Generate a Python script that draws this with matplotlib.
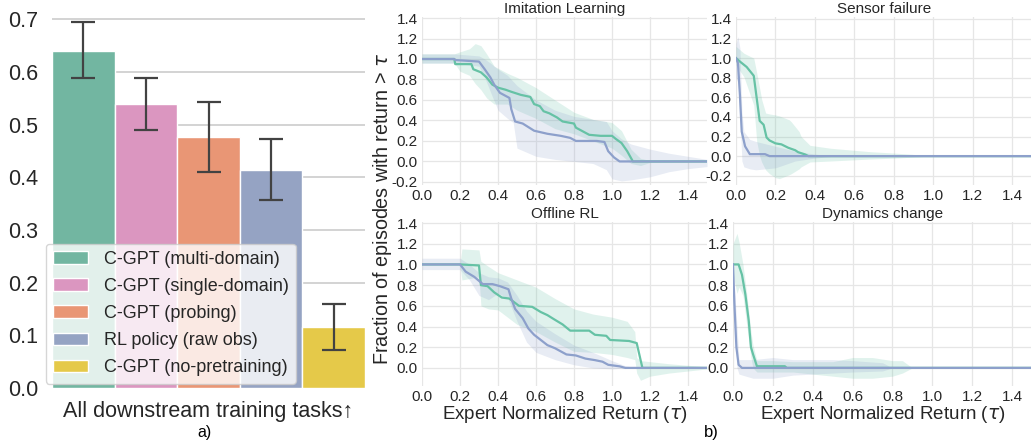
import matplotlib
matplotlib.use("Agg")
import matplotlib.pyplot as plt
import seaborn as sns

plt.rcParams['font.family'] = ['Liberation Sans', 'DejaVu Sans']
plt.rcParams['mathtext.fontset'] = 'dejavusans'
plt.rcParams['axes.unicode_minus'] = False

W, H = 1031, 441

# ---- panel a) bar chart ----
methods = ["C-GPT (multi-domain)", "C-GPT (single-domain)", "C-GPT (probing)",
           "RL policy (raw obs)", "C-GPT (no-pretraining)"]
bar_means = [0.640, 0.538, 0.476, 0.413, 0.116]
bar_lo = [0.588, 0.490, 0.410, 0.357, 0.073]
bar_hi = [0.695, 0.588, 0.543, 0.472, 0.160]

# ---- panel b) curves: x, mean, band x, band low, band high ----
tick_x = [0.0, 0.2, 0.4, 0.6, 0.8, 1.0, 1.2, 1.4]

# Imitation Learning
il_cg_x = [0.0, 0.17, 0.175, 0.26, 0.27, 0.31, 0.34, 0.37, 0.40, 0.44, 0.47, 0.52, 0.57, 0.59,
           0.62, 0.64, 0.67, 0.71, 0.74, 0.80, 0.81, 0.85, 0.88, 0.94, 1.00, 1.02, 1.05, 1.08,
           1.11, 1.50]
il_cg_y = [1.0, 1.0, 0.95, 0.95, 0.90, 0.87, 0.82, 0.75, 0.72, 0.70, 0.68, 0.65, 0.63, 0.56,
           0.54, 0.49, 0.47, 0.43, 0.39, 0.37, 0.33, 0.29, 0.26, 0.25, 0.25, 0.22, 0.18, 0.10,
           0.0, 0.0]
il_cg_bx = [0.0, 0.17, 0.2, 0.25, 0.28, 0.31, 0.34, 0.38, 0.45, 0.5, 0.6, 0.7, 0.8, 0.9, 1.0,
            1.05, 1.1, 1.15, 1.2, 1.5]
il_cg_hi = [1.05, 1.05, 1.07, 1.1, 1.15, 1.13, 1.05, 0.93, 0.86, 0.82, 0.72, 0.6, 0.48, 0.41,
            0.38, 0.3, 0.12, 0.03, 0.01, 0.0]
il_cg_lo = [0.96, 0.96, 0.88, 0.84, 0.76, 0.70, 0.62, 0.56, 0.56, 0.5, 0.42, 0.32, 0.27, 0.2,
            0.13, 0.06, -0.02, -0.04, -0.01, 0.0]
il_rl_x = [0.0, 0.17, 0.175, 0.30, 0.33, 0.36, 0.38, 0.41, 0.44, 0.46, 0.47, 0.49, 0.53, 0.59,
           0.66, 0.73, 0.78, 0.81, 0.92, 0.96, 0.98, 1.01, 1.04, 1.50]
il_rl_y = [1.0, 1.0, 0.99, 0.975, 0.90, 0.82, 0.75, 0.67, 0.64, 0.62, 0.51, 0.39, 0.37, 0.30,
           0.27, 0.25, 0.23, 0.20, 0.20, 0.19, 0.10, 0.04, 0.0, 0.0]
il_rl_bx = [0.0, 0.17, 0.3, 0.33, 0.36, 0.4, 0.45, 0.48, 0.5, 0.6, 0.7, 0.8, 0.9, 0.97, 1.0,
            1.05, 1.1, 1.2, 1.3, 1.4, 1.5]
il_rl_hi = [1.05, 1.05, 1.03, 1.0, 0.96, 0.9, 0.84, 0.78, 0.74, 0.6, 0.5, 0.44, 0.41, 0.39,
            0.3, 0.22, 0.17, 0.12, 0.08, 0.05, 0.02]
il_rl_lo = [0.96, 0.96, 0.93, 0.82, 0.68, 0.5, 0.42, 0.38, 0.13, 0.05, 0.02, 0.0, -0.02,
            -0.08, -0.17, -0.19, -0.18, -0.15, -0.1, -0.07, -0.05]

# Sensor failure
sf_cg_x = [0.0, 0.02, 0.054, 0.09, 0.105, 0.12, 0.14, 0.155, 0.17, 0.20, 0.23, 0.265, 0.30,
           0.315, 0.35, 0.367, 1.5]
sf_cg_y = [1.0, 0.965, 0.91, 0.82, 0.59, 0.36, 0.32, 0.19, 0.16, 0.13, 0.12, 0.085, 0.06,
           0.04, 0.017, 0.0, 0.0]
sf_cg_bx = [0.0, 0.04, 0.09, 0.105, 0.12, 0.13, 0.15, 0.17, 0.2, 0.22, 0.27, 0.28, 0.32, 0.33,
            0.375, 0.48, 0.68, 0.81, 0.9, 0.98, 1.5]
sf_cg_hi = [1.12, 1.05, 1.0, 0.85, 0.69, 0.58, 0.44, 0.43, 0.42, 0.41, 0.37, 0.35, 0.25, 0.2,
            0.11, 0.08, 0.045, 0.03, 0.017, 0.0, 0.0]
sf_cg_lo = [0.93, 0.81, 0.52, 0.15, 0.0, -0.06, -0.14, -0.18, -0.22, -0.23, -0.19, -0.18,
            -0.13, -0.11, -0.06, -0.05, -0.03, -0.02, -0.01, 0.0, 0.0]
sf_rl_x = [0.0, 0.01, 0.02, 0.029, 0.046, 0.07, 0.147, 0.17, 1.5]
sf_rl_y = [1.0, 0.95, 0.62, 0.25, 0.10, 0.02, 0.02, 0.0, 0.0]
sf_rl_bx = [0.0, 0.01, 0.02, 0.03, 0.04, 0.07, 0.1, 0.2, 0.3, 0.4, 0.5]
sf_rl_hi = [1.15, 1.22, 1.1, 0.45, 0.25, 0.17, 0.15, 0.1, 0.05, 0.02, 0.0]
sf_rl_lo = [0.8, 0.75, 0.4, -0.05, -0.11, -0.13, -0.14, -0.12, -0.05, -0.02, 0.0]

# Offline RL
or_cg_x = [0.0, 0.20, 0.30, 0.31, 0.345, 0.38, 0.42, 0.46, 0.51, 0.58, 0.625, 0.66, 0.695,
           0.74, 0.78, 0.88, 0.91, 0.97, 0.99, 1.09, 1.11, 1.13, 1.16, 1.5]
or_cg_y = [1.0, 1.0, 0.99, 0.80, 0.79, 0.73, 0.68, 0.67, 0.60, 0.59, 0.54, 0.51, 0.47, 0.42,
           0.36, 0.36, 0.32, 0.31, 0.27, 0.26, 0.25, 0.24, 0.0, 0.0]
or_cg_bx = [0.0, 0.2, 0.21, 0.30, 0.31, 0.35, 0.4, 0.5, 0.6, 0.7, 0.8, 0.9, 1.0, 1.08, 1.12,
            1.13, 1.15, 1.2, 1.3, 1.5]
or_cg_hi = [1.0, 1.0, 1.15, 1.14, 1.03, 0.98, 0.92, 0.85, 0.78, 0.67, 0.57, 0.52, 0.49, 0.45,
            0.35, 0.1, 0.07, 0.06, 0.04, 0.01]
or_cg_lo = [1.0, 1.0, 0.85, 0.88, 0.6, 0.57, 0.56, 0.42, 0.35, 0.25, 0.16, 0.15, 0.13, 0.1,
            0.08, -0.05, -0.12, -0.08, -0.05, -0.01]
or_rl_x = [0.0, 0.2, 0.23, 0.275, 0.32, 0.37, 0.41, 0.455, 0.47, 0.49, 0.53, 0.56, 0.59, 0.625,
           0.66, 0.70, 0.76, 0.81, 0.86, 0.91, 0.95, 0.98, 1.04, 1.07, 1.5]
or_rl_y = [1.0, 1.0, 0.93, 0.88, 0.81, 0.81, 0.79, 0.76, 0.67, 0.57, 0.48, 0.38, 0.32, 0.27,
           0.22, 0.19, 0.13, 0.12, 0.09, 0.075, 0.06, 0.03, 0.015, 0.0, 0.0]
or_rl_bx = [0.0, 0.2, 0.25, 0.3, 0.35, 0.4, 0.45, 0.5, 0.55, 0.6, 0.7, 0.8, 0.9, 1.0, 1.07,
            1.15, 1.5]
or_rl_hi = [1.06, 1.06, 1.0, 0.92, 0.88, 0.87, 0.83, 0.7, 0.55, 0.45, 0.33, 0.22, 0.15, 0.07,
            0.02, 0.0, 0.0]
or_rl_lo = [0.95, 0.95, 0.85, 0.7, 0.66, 0.72, 0.68, 0.45, 0.25, 0.15, 0.08, 0.03, 0.0, -0.01,
            0.0, 0.0, 0.0]

# Dynamics change
dc_cg_x = [0.0, 0.028, 0.045, 0.062, 0.079, 0.09, 0.10, 0.12, 0.26, 0.27, 1.5]
dc_cg_y = [1.0, 1.0, 0.90, 0.71, 0.455, 0.2, 0.135, 0.016, 0.016, 0.0, 0.0]
dc_cg_bx = [0.0, 0.02, 0.03, 0.05, 0.07, 0.09, 0.1, 0.12, 0.2, 0.3, 0.5, 0.6, 0.7, 0.8, 0.85,
            0.9, 1.5]
dc_cg_hi = [1.2, 1.3, 1.22, 1.0, 0.7, 0.35, 0.22, 0.07, 0.07, 0.06, 0.06, 0.1, 0.1, 0.07, 0.07,
            0.0, 0.0]
dc_cg_lo = [0.9, 0.72, 0.78, 0.7, 0.4, 0.1, 0.0, -0.04, -0.04, -0.04, -0.08, -0.1, -0.1, -0.08,
            -0.05, 0.0, 0.0]
dc_rl_x = [0.0, 0.007, 0.017, 0.028, 0.045, 1.5]
dc_rl_y = [1.0, 0.62, 0.2, 0.03, 0.0, 0.0]
dc_rl_bx = [0.0, 0.02, 0.03, 0.1, 0.2, 0.3, 0.5, 0.6, 0.75, 0.8, 1.5]
dc_rl_hi = [1.0, 0.4, 0.08, 0.08, 0.1, 0.08, 0.08, 0.07, 0.05, 0.0, 0.0]
dc_rl_lo = [0.95, 0.0, -0.06, -0.1, -0.1, -0.07, -0.05, -0.04, -0.03, 0.0, 0.0]

pal = sns.color_palette("Set2", 8)
bar_colors = [sns.desaturate(pal[i], 0.75) for i in [0, 3, 1, 2, 5]]
green, blue = pal[0], pal[2]


def px(l, t, r, b):
    return [l / W, 1 - b / H, (r - l) / W, (b - t) / H]


fig = plt.figure(figsize=(W / 100, H / 100), dpi=100)

# ---- a) ----
ax = fig.add_axes(px(52, 17, 365, 388))
bw = 0.16
pos = [-0.32 + i * bw for i in range(len(methods))]
for i, m in enumerate(methods):
    ax.bar(pos[i], bar_means[i], width=bw, color=bar_colors[i], edgecolor='white',
           linewidth=1, label=m, zorder=2)
    ax.errorbar(pos[i], bar_means[i],
                yerr=[[bar_means[i] - bar_lo[i]], [bar_hi[i] - bar_means[i]]],
                color='#424242', lw=1.6, capsize=8.5, capthick=1.6, zorder=3)
ax.set_xlim(-0.4, 0.4)
ax.set_ylim(0, 0.704)
ax.set_yticks([0.0, 0.1, 0.2, 0.3, 0.4, 0.5, 0.6, 0.7])
ax.set_xticks([])
ax.tick_params(axis='y', labelsize=15.5, length=0, pad=10, labelcolor='#262626')
ax.grid(axis='y', color='#cccccc', lw=1.2, zorder=0)
ax.set_axisbelow(True)
for s in ax.spines.values():
    s.set_visible(False)
ax.set_xlabel("All downstream training tasks\u2191", fontsize=15.5, labelpad=9,
              color='#262626')
leg = ax.legend(loc='lower left', bbox_to_anchor=(-0.02, 0.012), borderaxespad=0,
                fontsize=13, handlelength=1.95, handleheight=0.7, handletextpad=0.85,
                labelspacing=0.56, frameon=True, fancybox=True, framealpha=0.8,
                edgecolor='#cccccc')
for t in leg.get_texts():
    t.set_color('#262626')
fig.text(205 / W, 1 - 433 / H, "a)", fontsize=11.5, ha='center', va='center')

# ---- b) ----
panels = [
    ("Imitation Learning", px(422, 17, 707, 185), (-0.23, 1.41),
     [-0.2, 0.0, 0.2, 0.4, 0.6, 0.8, 1.0, 1.2, 1.4],
     (il_cg_x, il_cg_y, il_cg_bx, il_cg_lo, il_cg_hi),
     (il_rl_x, il_rl_y, il_rl_bx, il_rl_lo, il_rl_hi), False),
    ("Sensor failure", px(736, 17, 1032, 185), (-0.295, 1.42),
     [-0.2, 0.0, 0.2, 0.4, 0.6, 0.8, 1.0, 1.2, 1.4],
     (sf_cg_x, sf_cg_y, sf_cg_bx, sf_cg_lo, sf_cg_hi),
     (sf_rl_x, sf_rl_y, sf_rl_bx, sf_rl_lo, sf_rl_hi), False),
    ("Offline RL", px(422, 222, 707, 386), (-0.175, 1.41),
     [0.0, 0.2, 0.4, 0.6, 0.8, 1.0, 1.2, 1.4],
     (or_cg_x, or_cg_y, or_cg_bx, or_cg_lo, or_cg_hi),
     (or_rl_x, or_rl_y, or_rl_bx, or_rl_lo, or_rl_hi), True),
    ("Dynamics change", px(733, 222, 1032, 386), (-0.175, 1.41),
     [0.0, 0.2, 0.4, 0.6, 0.8, 1.0, 1.2, 1.4],
     (dc_cg_x, dc_cg_y, dc_cg_bx, dc_cg_lo, dc_cg_hi),
     (dc_rl_x, dc_rl_y, dc_rl_bx, dc_rl_lo, dc_rl_hi), True),
]

for title, rect, ylim, yt, cg, rl, bottom in panels:
    a = fig.add_axes(rect)
    for (x, y, bx, lo, hi), c in [(cg, green), (rl, blue)]:
        a.fill_between(bx, lo, hi, color=c, alpha=0.2, lw=0)
        a.plot(x, y, color=c, lw=1.6)
    a.set_xlim(0, 1.5)
    a.set_ylim(*ylim)
    a.set_xticks(tick_x)
    a.set_yticks(yt)
    a.tick_params(labelsize=11, length=0, pad=3, labelcolor='#262626')
    a.grid(color='#e6e6e6', lw=0.9)
    a.set_axisbelow(True)
    for s in a.spines.values():
        s.set_visible(False)
    a.set_title(title, fontsize=11, pad=3, color='#262626')
    if bottom:
        a.set_xlabel(r"Expert Normalized Return ($\tau$)", fontsize=13.5, labelpad=0,
                     color='#262626')

fig.text(382 / W, 1 - 209 / H, r"Fraction of episodes with return > $\tau$", fontsize=14.2,
         rotation=90, ha='center', va='center', color='#262626')
fig.text(711 / W, 1 - 432 / H, "b)", fontsize=12, ha='center', va='center')

fig.savefig("out.png", dpi=100)
